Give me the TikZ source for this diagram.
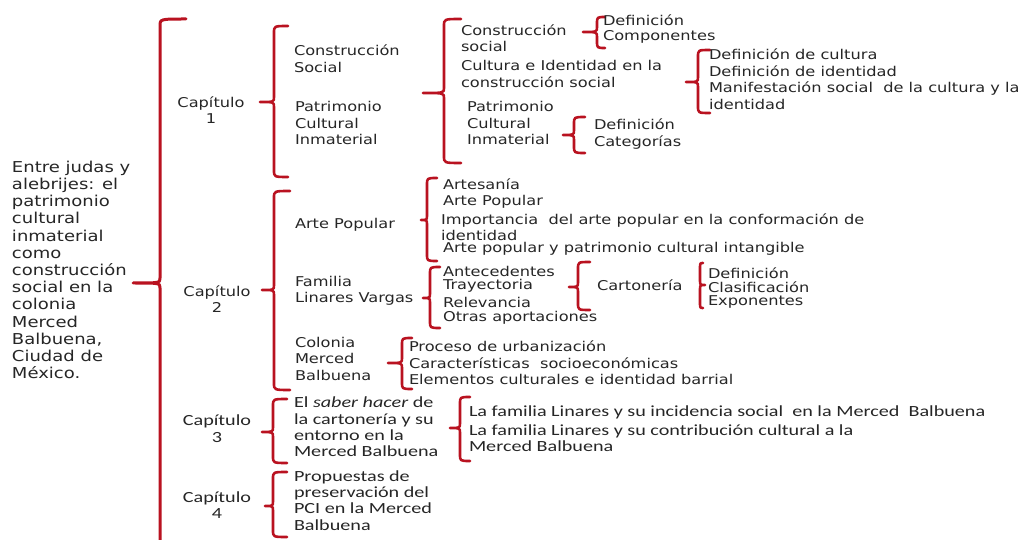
\documentclass[tikz,border=0pt]{standalone}
\usepackage{fontspec}
\setmainfont{DejaVu Sans}[FakeStretch=1.2]
\newfontfamily\calfont{Carlito}[FakeStretch=1.3]
\definecolor{bred}{RGB}{185,18,32}
\definecolor{txt}{RGB}{38,38,38}
\tikzset{
  brc/.style={draw=bred,line width=2.6pt,line join=round,line cap=round},
  mainbrc/.style={brc,line width=3pt},
  vtxt/.style={anchor=west,inner sep=0pt,outer sep=0pt,align=left,text=txt,
    font=\fontsize{13.5}{16.5}\selectfont},
  ctxt/.style={vtxt,font=\calfont\fontsize{15.5}{16.3}\selectfont},
  chap/.style={inner sep=0pt,align=center,text=txt,font=\fontsize{13.5}{16}\selectfont},
  cchap/.style={chap,font=\calfont\fontsize{15.5}{16.5}\selectfont},
  ttl/.style={vtxt,font=\fontsize{15}{17.2}\selectfont},
}
\newcommand\redbrace[7][brc]{%
  \draw[#1] (#7,#3) .. controls (#2,#3) .. (#2,#3+7) -- (#2,#5-5)
    .. controls (#2,#5) .. (#6,#5) .. controls (#2,#5) .. (#2,#5+5)
    -- (#2,#4-7) .. controls (#2,#4) .. (#7,#4);}
\begin{document}
\begin{tikzpicture}[x=1pt,y=-1pt]
\useasboundingbox (0,0) rectangle (1021,540);
\fill[white] (0,0) rectangle (1021,540);
\clip (0,0) rectangle (1021,540);
% braces
\redbrace[mainbrc]{160}{19}{570}{283}{133}{186}
\redbrace{274}{26}{177}{102}{260}{288}
\redbrace{274}{191}{390}{290}{262}{290}
\redbrace{273}{399}{463}{432}{262}{287}
\redbrace{273}{472}{537}{506}{265}{287}
\redbrace{444}{19}{163}{93}{423}{461}
\redbrace{597}{17}{48}{32}{583}{605}
\redbrace{698}{50}{113}{82}{686}{710}
\redbrace{574}{117}{153}{135}{563}{585}
\redbrace{427}{178}{261}{220}{421}{437}
\redbrace{430}{267}{328}{298}{423}{440}
\redbrace{578}{262}{310}{287}{569}{590}
\redbrace{700}{263}{308}{285}{705}{703}
\redbrace{402}{338}{389}{363}{388}{412}
\redbrace{460}{397}{461}{428}{450}{470}
% title
\node[ttl] (title) at (12,270) {Entre judas y\\alebrijes: el\\patrimonio\\cultural\\inmaterial\\como\\construcción\\social en la\\colonia\\Merced\\Balbuena,\\Ciudad de\\México.};
% chapters
\node[chap] (c1) at (211,110) {Capítulo\\1};
\node[chap] (c2) at (217,299) {Capítulo\\2};
\node[cchap] (c3) at (217,428.5) {Capítulo\\3};
\node[cchap] (c4) at (217,505) {Capítulo\\4};
% chapter 1
\node[vtxt] (cs) at (294,58.5) {Construcción\\Social};
\node[vtxt] (pci) at (295,123) {Patrimonio\\Cultural\\Inmaterial};
\node[vtxt] (cs2) at (461,38) {Construcción\\social};
\node[vtxt,font=\fontsize{13.5}{15}\selectfont] (dc) at (603,29.5) {Definición\\Componentes};
\node[vtxt] (cid) at (461,74) {Cultura e Identidad en la\\construcción social};
\node[vtxt] (cul) at (709,79) {Definición de cultura\\Definición de identidad\\Manifestación social~ de la cultura y la\\identidad};
\node[vtxt] (pci2) at (467,123) {Patrimonio\\Cultural\\Inmaterial};
\node[vtxt] (dcat) at (594,134) {Definición\\Categorías};
% chapter 2
\node[vtxt] (ap) at (295,225) {Arte Popular};
\node[vtxt] (a1) at (443,184) {Artesanía};
\node[vtxt] (a2) at (443,202) {Arte Popular};
\node[vtxt] (a3) at (441,227) {Importancia~ del arte popular en la conformación de\\identidad};
\node[vtxt] (a4) at (443,249) {Arte popular y patrimonio cultural intangible};
\node[vtxt] (flv) at (295,291) {Familia\\Linares Vargas};
\node[vtxt] (f1) at (443,271) {Antecedentes};
\node[vtxt] (f2) at (443,286) {Trayectoria};
\node[vtxt] (f3) at (443,302) {Relevancia};
\node[vtxt] (f4) at (443,318) {Otras aportaciones};
\node[vtxt] (cart) at (597,285) {Cartonería};
\node[vtxt] (k1) at (708,273) {Definición};
\node[vtxt] (k2) at (708,287) {Clasificación};
\node[vtxt] (k3) at (708,302) {Exponentes};
\node[vtxt] (cmb) at (295,358.5) {Colonia\\Merced\\Balbuena};
\node[vtxt] (p1) at (409,346) {Proceso de urbanización};
\node[vtxt] (p2) at (409,363) {Características~ socioeconómicas};
\node[vtxt] (p3) at (409,379) {Elementos culturales e identidad barrial};
% chapter 3
\node[ctxt] (sh) at (294,427) {El \textit{saber hacer} de\\la cartonería y su\\entorno en la\\Merced Balbuena};
\node[ctxt] (l1) at (469,412) {La familia Linares y su incidencia social~ en la Merced~ Balbuena};
\node[ctxt] (l2) at (469,438) {La familia Linares y su contribución cultural a la\\Merced Balbuena};
% chapter 4
\node[ctxt] (prop) at (294,500.5) {Propuestas de\\preservación del\\PCI en la Merced\\Balbuena};
\end{tikzpicture}
\end{document}
